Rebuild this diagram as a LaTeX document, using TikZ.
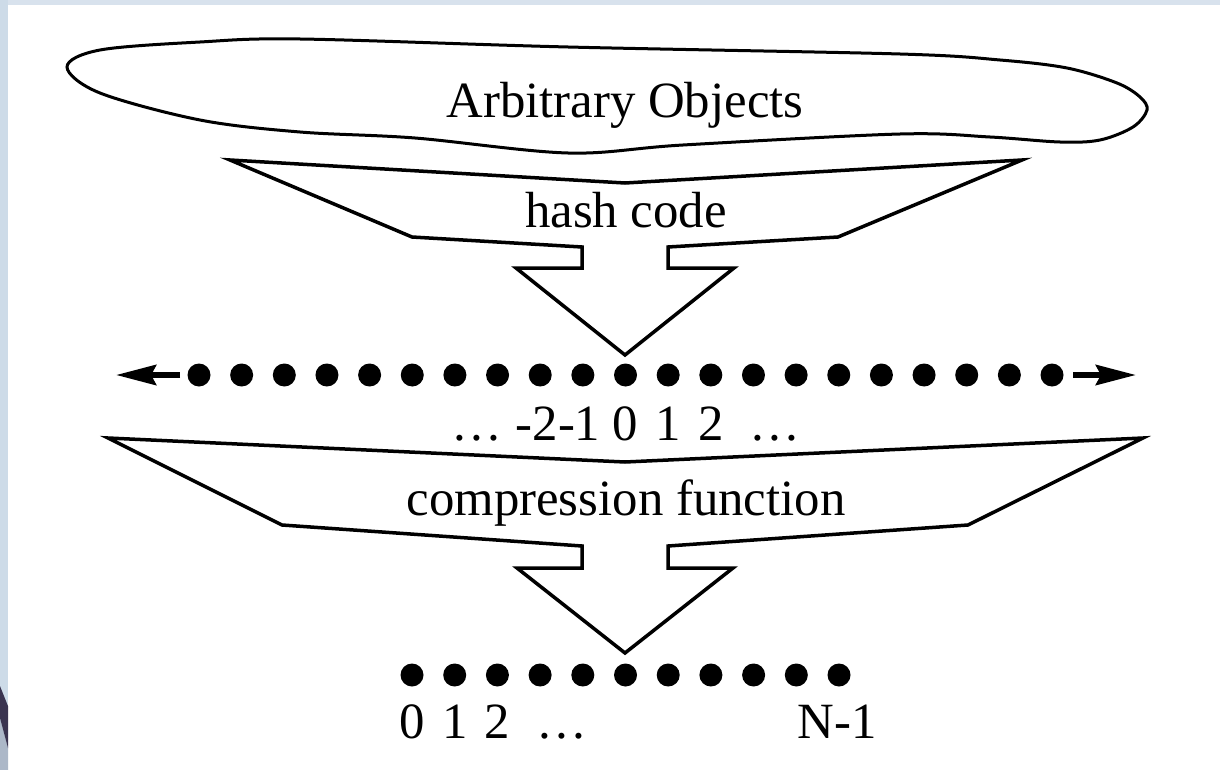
\documentclass[tikz,border=0pt]{standalone}
\usepackage{fontspec}
\setmainfont{Liberation Serif}
\usetikzlibrary{arrows.meta}
\definecolor{slidebg}{RGB}{205,219,232}
\definecolor{slidetop}{RGB}{216,226,237}
\definecolor{darkband}{RGB}{58,52,80}
\definecolor{greyband}{RGB}{172,184,200}
\begin{document}
\begin{tikzpicture}[x=1bp,y=-1bp,
  lbl/.style={font=\fontsize{51}{60}\selectfont, inner sep=0pt, anchor=base},
  dotnode/.style={circle,fill=black,inner sep=0pt,minimum size=23bp},
  outline/.style={draw=black,line width=3.5bp,fill=white,line join=miter},
  blobline/.style={draw=black,line width=3bp,fill=white},
  arrowline/.style={line width=6bp,-{Stealth[length=40bp,width=20bp,inset=5bp]}}]
\useasboundingbox (0,0) rectangle (1220,770);
% slide background
\fill[white] (0,0) rectangle (1220,770);
\fill[slidetop] (0,0) rectangle (1220,5);
\fill[slidebg] (0,0) rectangle (8,770);
\fill[greyband] (0,718) -- (8,748) -- (8,770) -- (0,770) -- cycle;
\fill[darkband] (0,686) -- (8,706) -- (8,748) -- (0,718) -- cycle;

% arbitrary objects blob
\draw[blobline] plot[smooth cycle, tension=0.55] coordinates {
  (67,67) (100,50) (200,42) (300,39) (568,47) (900,54) (1000,60) (1067,68)
  (1117,83) (1140,97) (1147,110) (1133,127) (1100,140) (1060,142) (990,137)
  (900,134) (683,145) (568,153) (415,138) (300,132) (200,120) (100,93)};
\node[lbl] (objects) at (625,118) {Arbitrary Objects};

% hash code funnel
\draw[outline] (230,160) -- (625,183) -- (1022,160) -- (838,237) -- (668,247)
  -- (668,268) -- (734,268) -- (625,355) -- (516,268) -- (582,268) -- (582,247)
  -- (412,237) -- cycle;
\node[lbl] (hash) at (626,227) {hash code};

% integer line
\foreach \i in {0,...,20} \node[dotnode] (a\i) at ({199+\i*42.65},375) {};
\coordinate (lstart) at (180,375);
\coordinate (lend) at (116,375);
\coordinate (rstart) at (1073,375);
\coordinate (rend) at (1136,375);
\draw[arrowline] (lstart) -- (lend);
\draw[arrowline] (rstart) -- (rend);
\node[lbl] (m1) at (477,440) {…};
\node[lbl] (m2) at (558,440) {-2-1};
\node[lbl] (m3) at (625,440) {0};
\node[lbl] (m4) at (668,440) {1};
\node[lbl] (m5) at (711,440) {2};
\node[lbl] (m6) at (775,440) {…};

% compression funnel
\draw[outline] (108,438) -- (625,462) -- (1143,438) -- (968,525) -- (668,546)
  -- (668,568) -- (733,568) -- (625,653) -- (517,568) -- (582,568) -- (582,546)
  -- (282,525) -- cycle;
\node[lbl] (comp) at (626,515) {compression function};

% bucket array
\foreach \i in {0,...,10} \node[dotnode] (b\i) at ({412+\i*42.7},675) {};
\node[lbl] (n0) at (412,738) {0};
\node[lbl] (n1) at (455,738) {1};
\node[lbl] (n2) at (497,738) {2};
\node[lbl] (n3) at (562,738) {…};
\node[lbl] (n4) at (837,738) {N-1};
\end{tikzpicture}
\end{document}
